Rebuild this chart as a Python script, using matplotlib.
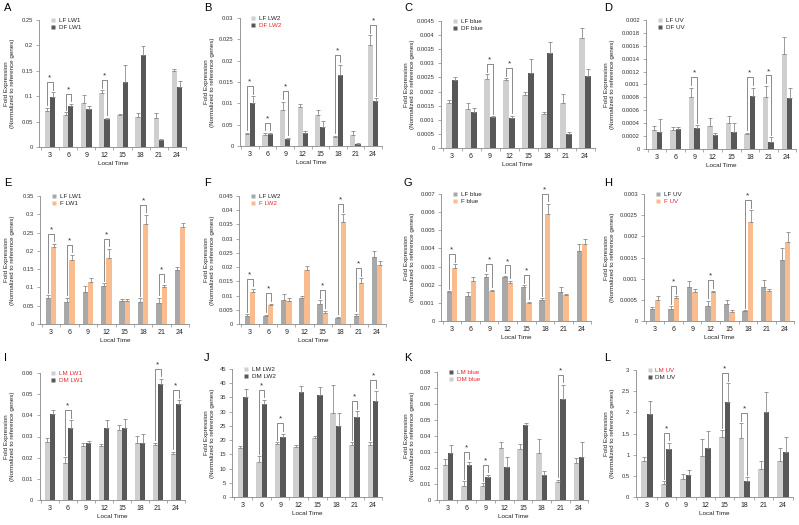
import matplotlib
matplotlib.use('Agg')
import matplotlib.pyplot as plt
from matplotlib.lines import Line2D
import numpy as np

plt.rcParams['font.family'] = ['Liberation Sans', 'DejaVu Sans']

times = ['3', '6', '9', '12', '15', '18', '21', '24']

# ---------------- data ----------------
# Panel A
a_lf = [0.070, 0.0625, 0.0875, 0.106, 0.0625, 0.060, 0.057, 0.149]
a_lf_err = [0.007, 0.006, 0.014, 0.006, 0.003, 0.007, 0.009, 0.005]
a_df = [0.099, 0.080, 0.074, 0.055, 0.128, 0.182, 0.014, 0.118]
a_df_err = [0.009, 0.005, 0.006, 0.003, 0.033, 0.017, 0.002, 0.012]
a_sig = ['3', '6', '12']
a_ticks = ['0', '0.05', '0.1', '0.15', '0.2', '0.25']
a_tickvals = [0, 0.05, 0.1, 0.15, 0.2, 0.25]

# Panel B
b_lf = [0.0027, 0.0026, 0.0085, 0.0092, 0.0073, 0.0022, 0.0026, 0.0237]
b_lf_err = [0.0004, 0.0005, 0.0019, 0.0006, 0.0012, 0.0002, 0.0008, 0.0023]
b_df = [0.0100, 0.0028, 0.0017, 0.0030, 0.0045, 0.0167, 0.0005, 0.0106]
b_df_err = [0.0017, 0.0003, 0.0002, 0.0004, 0.0014, 0.0023, 0.0002, 0.0006]
b_sig = ['3', '6', '9', '18', '24']
b_ticks = ['0', '0.05', '0.01', '0.015', '0.02', '0.025', '0.03']
b_tickvals = [0, 0.005, 0.01, 0.015, 0.02, 0.025, 0.03]

# Panel C
c_lf = [0.00159, 0.00139, 0.00243, 0.00242, 0.00188, 0.00119, 0.00159, 0.0039]
c_lf_err = [0.00012, 0.0002, 0.00018, 0.00005, 0.0001, 0.0001, 0.00033, 0.00035]
c_df = [0.00242, 0.00126, 0.0011, 0.00107, 0.00266, 0.00337, 0.00051, 0.00255]
c_df_err = [0.0001, 0.00015, 0.00003, 0.00008, 0.0005, 0.0004, 0.00006, 0.00024]
c_sig = ['9', '12']
c_ticks = ['0', '0.0005', '0.001', '0.0015', '0.002', '0.0025', '0.003', '0.0035', '0.004', '0.0045']
c_tickvals = [0, 0.0005, 0.001, 0.0015, 0.002, 0.0025, 0.003, 0.0035, 0.004, 0.0045]

# Panel D
d_lf = [0.000295, 0.0003, 0.0008, 0.00036, 0.00041, 0.00023, 0.0008, 0.00147]
d_lf_err = [0.00006, 0.00004, 0.00015, 0.00012, 0.0001, 0.00002, 0.00018, 0.00026]
d_df = [0.00026, 0.00031, 0.00033, 0.00021, 0.00026, 0.00082, 0.00011, 0.00079]
d_df_err = [0.0002, 0.00003, 0.00004, 0.00004, 0.00015, 0.00013, 0.00007, 0.00016]
d_sig = ['9', '18', '21']
d_ticks = ['0', '0.0002', '0.0004', '0.0006', '0.0008', '0.001', '0.0012', '0.0014', '0.0016', '0.0018', '0.002']
d_tickvals = [0, 0.0002, 0.0004, 0.0006, 0.0008, 0.001, 0.0012, 0.0014, 0.0016, 0.0018, 0.002]

# Panel E
e_lf = [0.070, 0.061, 0.087, 0.105, 0.064, 0.059, 0.057, 0.149]
e_lf_err = [0.009, 0.011, 0.017, 0.006, 0.003, 0.011, 0.015, 0.006]
e_f = [0.210, 0.175, 0.114, 0.181, 0.064, 0.274, 0.102, 0.266]
e_f_err = [0.009, 0.014, 0.011, 0.024, 0.003, 0.024, 0.006, 0.009]
e_sig = ['3', '6', '12', '18', '21']
e_ticks = ['0', '0.05', '0.1', '0.15', '0.2', '0.25', '0.3', '0.35']
e_tickvals = [0, 0.05, 0.1, 0.15, 0.2, 0.25, 0.3, 0.35]

# Panel F
f_lf = [0.0029, 0.0027, 0.0085, 0.0091, 0.0072, 0.0021, 0.0027, 0.0237]
f_lf_err = [0.0005, 0.0005, 0.0020, 0.0006, 0.0012, 0.0004, 0.0008, 0.0019]
f_f = [0.0111, 0.0067, 0.0081, 0.0189, 0.0039, 0.0358, 0.0145, 0.0207]
f_f_err = [0.0012, 0.0005, 0.0011, 0.0014, 0.0008, 0.0027, 0.0015, 0.0014]
f_sig = ['3', '6', '15', '18', '21']
f_ticks = ['0', '0.005', '0.01', '0.015', '0.02', '0.025', '0.03', '0.035', '0.04', '0.045']
f_tickvals = [0, 0.005, 0.01, 0.015, 0.02, 0.025, 0.03, 0.035, 0.04, 0.045]

# Panel G
g_lf = [0.00158, 0.0014, 0.00243, 0.00243, 0.00187, 0.00118, 0.00158, 0.00386]
g_lf_err = [0.00007, 0.00022, 0.00016, 0.00007, 0.0001, 0.00007, 0.00031, 0.00037]
g_f = [0.0029, 0.0022, 0.00165, 0.00211, 0.00097, 0.00588, 0.00143, 0.00423]
g_f_err = [0.00022, 0.00024, 0.00007, 0.0001, 0.0001, 0.00057, 0.00007, 0.00027]
g_sig = ['3', '9', '12', '15', '18']
g_ticks = ['0', '0.001', '0.002', '0.003', '0.004', '0.005', '0.006', '0.007']
g_tickvals = [0, 0.001, 0.002, 0.003, 0.004, 0.005, 0.006, 0.007]

# Panel H
h_lf = [0.00029, 0.00029, 0.0008, 0.00035, 0.0004, 0.00023, 0.0008, 0.00145]
h_lf_err = [0.00005, 0.00006, 0.00015, 0.00013, 0.0001, 0.00002, 0.00017, 0.00027]
h_f = [0.00049, 0.00054, 0.00068, 0.00069, 0.00021, 0.00233, 0.00072, 0.00187]
h_f_err = [0.00011, 0.00004, 0.00007, 0.00003, 0.00004, 0.00029, 0.00003, 0.00024]
h_sig = ['6', '12', '18']
h_ticks = ['0', '0.0005', '0.001', '0.0015', '0.002', '0.0025', '0.003']
h_tickvals = [0, 0.0005, 0.001, 0.0015, 0.002, 0.0025, 0.003]

# Panel I
i_lm = [0.0275, 0.0173, 0.0254, 0.0254, 0.0330, 0.0270, 0.0261, 0.0217]
i_lm_err = [0.0016, 0.0028, 0.0013, 0.0010, 0.0022, 0.0033, 0.0010, 0.0011]
i_dm = [0.0408, 0.0338, 0.0270, 0.0341, 0.0341, 0.0270, 0.0547, 0.0452]
i_dm_err = [0.0019, 0.0039, 0.0010, 0.0039, 0.0044, 0.0044, 0.0025, 0.0019]
i_sig = ['6', '21', '24']
i_ticks = ['0', '0.01', '0.02', '0.03', '0.04', '0.05', '0.06']
i_tickvals = [0, 0.01, 0.02, 0.03, 0.04, 0.05, 0.06]

# Panel J
j_lm = [17.2, 12.3, 18.6, 17.7, 20.7, 29.6, 18.4, 18.3]
j_lm_err = [0.8, 2.0, 0.7, 0.7, 0.9, 9.8, 0.9, 1.0]
j_dm = [35.0, 32.8, 21.2, 37.0, 36.0, 25.0, 28.3, 33.6]
j_dm_err = [2.8, 1.3, 1.1, 2.0, 2.5, 4.6, 1.9, 3.8]
j_sig = ['6', '9', '21', '24']
j_ticks = ['0', '5', '10', '15', '20', '25', '30', '35', '40', '45']
j_tickvals = [0, 5, 10, 15, 20, 25, 30, 35, 40, 45]

# Panel K
k_lm = [0.0216, 0.0089, 0.0089, 0.0324, 0.0320, 0.0295, 0.0112, 0.0233]
k_lm_err = [0.0042, 0.0029, 0.0015, 0.0038, 0.0033, 0.0089, 0.0015, 0.0027]
k_dm = [0.0291, 0.0218, 0.0141, 0.0204, 0.0466, 0.0154, 0.0634, 0.0270]
k_dm_err = [0.0050, 0.0021, 0.0015, 0.0066, 0.0016, 0.0025, 0.0085, 0.0090]
k_sig = ['6', '9', '21']
k_ticks = ['0', '0.01', '0.02', '0.03', '0.04', '0.05', '0.06', '0.07', '0.08']
k_tickvals = [0, 0.01, 0.02, 0.03, 0.04, 0.05, 0.06, 0.07, 0.08]

# Panel L
l_lm = [0.845, 0.30, 0.434, 0.963, 1.42, 1.405, 0.655, 0.845]
l_lm_err = [0.10, 0.07, 0.10, 0.41, 0.16, 0.34, 0.19, 0.32]
l_dm = [1.965, 1.137, 0.52, 1.168, 2.24, 0.38, 2.0, 1.058]
l_dm_err = [0.30, 0.14, 0.11, 0.39, 0.45, 0.09, 0.47, 0.35]
l_sig = ['6', '15', '18']
l_ticks = ['0', '0.5', '1', '1.5', '2', '2.5', '3']
l_tickvals = [0, 0.5, 1, 1.5, 2, 2.5, 3]

# ---------------- styles ----------------
LIGHT = '#cfcfcf'
DARK = '#585858'
GREY = '#a8a8a8'
ORANGE = '#f8bc8e'
RED = '#e8282e'
BLACK = '#222222'
ERRC = '#8a8a8a'

panels = [
    ('A', a_lf, a_lf_err, a_df, a_df_err, a_sig, a_ticks, a_tickvals, LIGHT, DARK,
     'LF LW1', 'DF LW1', BLACK, BLACK, LIGHT, DARK, (50, 177, 20, 147), (0, 0)),
    ('B', b_lf, b_lf_err, b_df, b_df_err, b_sig, b_ticks, b_tickvals, LIGHT, DARK,
     'LF LW2', 'DF LW2', BLACK, RED, LIGHT, DARK, (250, 373, 18, 146), (200, 0)),
    ('C', c_lf, c_lf_err, c_df, c_df_err, c_sig, c_ticks, c_tickvals, LIGHT, DARK,
     'LF blue', 'DF blue', BLACK, BLACK, LIGHT, DARK, (452, 585, 21, 148), (400, 0)),
    ('D', d_lf, d_lf_err, d_df, d_df_err, d_sig, d_ticks, d_tickvals, LIGHT, DARK,
     'LF UV', 'DF UV', BLACK, BLACK, LIGHT, DARK, (657, 787, 20, 149), (600, 0)),
    ('E', e_lf, e_lf_err, e_f, e_f_err, e_sig, e_ticks, e_tickvals, GREY, ORANGE,
     'LF LW1', 'F LW1', BLACK, BLACK, GREY, ORANGE, (51, 180, 196, 324), (0, 175)),
    ('F', f_lf, f_lf_err, f_f, f_f_err, f_sig, f_ticks, f_tickvals, GREY, ORANGE,
     'LF LW2', 'F LW2', BLACK, RED, GREY, ORANGE, (250, 377, 196, 324), (200, 175)),
    ('G', g_lf, g_lf_err, g_f, g_f_err, g_sig, g_ticks, g_tickvals, GREY, ORANGE,
     'LF blue', 'F blue', BLACK, BLACK, GREY, ORANGE, (452, 582, 194, 321), (400, 175)),
    ('H', h_lf, h_lf_err, h_f, h_f_err, h_sig, h_ticks, h_tickvals, GREY, ORANGE,
     'LF UV', 'F UV', BLACK, RED, GREY, ORANGE, (655, 785, 194, 321), (600, 175)),
    ('I', i_lm, i_lm_err, i_dm, i_dm_err, i_sig, i_ticks, i_tickvals, LIGHT, DARK,
     'LM LW1', 'DM LW1', RED, RED, LIGHT, DARK, (50, 176, 373, 500), (0, 350)),
    ('J', j_lm, j_lm_err, j_dm, j_dm_err, j_sig, j_ticks, j_tickvals, LIGHT, DARK,
     'LM LW2', 'DM LW2', BLACK, BLACK, LIGHT, DARK, (243, 373, 369, 497), (200, 350)),
    ('K', k_lm, k_lm_err, k_dm, k_dm_err, k_sig, k_ticks, k_tickvals, LIGHT, DARK,
     'LM blue', 'DM blue', RED, RED, DARK, LIGHT, (448, 579, 372, 500), (400, 350)),
    ('L', l_lm, l_lm_err, l_dm, l_dm_err, l_sig, l_ticks, l_tickvals, LIGHT, DARK,
     'LM UV', 'DM UV', RED, BLACK, LIGHT, DARK, (647, 783, 370, 497), (600, 350)),
]

W, H = 799, 525
fig = plt.figure(figsize=(W / 100, H / 100), dpi=100)
fig.patch.set_facecolor('white')

bw = 0.29
XL, XR = -0.58, 7.5

for (letter, s1, e1, s2, e2, sig, ticks, tickvals, c1, c2, l1, l2,
     lc1, lc2, mk1, mk2, pix, origin) in panels:
    g3, g24, top, bot = pix
    ox, oy = origin
    sp = (g24 - g3) / 7.0
    left = g3 + XL * sp
    right = g24 + (XR - 7) * sp
    axw = right - left
    axh = bot - top
    ax = fig.add_axes([left / W, 1 - bot / H, axw / W, axh / H])
    x = np.arange(len(times))
    s1 = np.array(s1); s2 = np.array(s2); e1 = np.array(e1); e2 = np.array(e2)
    ax.bar(x - bw / 2, s1, bw, color=c1, edgecolor='none', zorder=2)
    ax.bar(x + bw / 2, s2, bw, color=c2, edgecolor='none', zorder=2)
    ax.errorbar(x - bw / 2, s1, yerr=[np.zeros_like(e1), e1], fmt='none',
                ecolor=ERRC, elinewidth=0.6, capsize=1.3, capthick=0.6, zorder=3)
    ax.errorbar(x + bw / 2, s2, yerr=[np.zeros_like(e2), e2], fmt='none',
                ecolor=ERRC, elinewidth=0.6, capsize=1.3, capthick=0.6, zorder=3)
    ymax = tickvals[-1]
    ax.set_ylim(0, ymax)
    ax.set_xlim(XL, XR)
    ax.set_yticks(tickvals)
    ax.set_yticklabels(ticks, fontsize=4.2, color='#333333')
    ax.set_xticks(x)
    ax.set_xticklabels(times, fontsize=5, color='#222222')
    ax.set_xticks(np.arange(len(times) + 1) - 0.5, minor=True)
    ax.tick_params(axis='x', which='major', length=0, pad=3.5)
    ax.tick_params(axis='x', which='minor', length=2, width=0.5, color='#888888')
    ax.tick_params(axis='y', length=2, width=0.5, color='#888888', pad=2.5)
    for s in ['top', 'right']:
        ax.spines[s].set_visible(False)
    for s in ['left', 'bottom']:
        ax.spines[s].set_color('#888888')
        ax.spines[s].set_linewidth(0.6)
    ax.set_facecolor('none')

    # significance brackets
    for t in sig:
        i = times.index(t)
        t1 = s1[i] + e1[i]
        t2 = s2[i] + e2[i]
        h = max(t1, t2) + 0.08 * ymax
        gap = 0.02 * ymax
        ax.plot([i - bw / 2, i - bw / 2, i + bw / 2, i + bw / 2],
                [t1 + gap, h, h, t2 + gap], color='#777777', lw=0.6, zorder=4,
                clip_on=False)
        ax.text(i, h + 0.004 * ymax, '*', ha='center', va='bottom', fontsize=6,
                color='#333333', clip_on=False)

    # legend
    handles = [Line2D([], [], ls='none', marker='s', ms=2.4, color=mk1, mec='none'),
               Line2D([], [], ls='none', marker='s', ms=2.4, color=mk2, mec='none')]
    leg = ax.legend(handles, [l1, l2], loc='upper left', bbox_to_anchor=(0.05, 1.045),
                    frameon=False, fontsize=4.5, handlelength=0.8, handletextpad=0.5,
                    labelspacing=0.25, borderaxespad=0.2)
    for txt, col in zip(leg.get_texts(), [lc1, lc2]):
        txt.set_color(col)

    # axis labels
    ax.text(0.5, -0.11, 'Local Time', transform=ax.transAxes, ha='center', va='top',
            fontsize=4.6, color='#222222')
    ax.set_ylabel('Fold Expression\n(Normalized to reference genes)', fontsize=4.5,
                  linespacing=1.25, va='center', ha='center', color='#222222')
    ax.yaxis.set_label_coords((ox + 9.5 - left) / axw, 0.5)

    # panel letter
    fig.text((ox + 4) / W, 1 - (oy + 8) / H, letter, fontsize=8, ha='left', va='center')

fig.savefig('out.png', dpi=100, facecolor='white')
